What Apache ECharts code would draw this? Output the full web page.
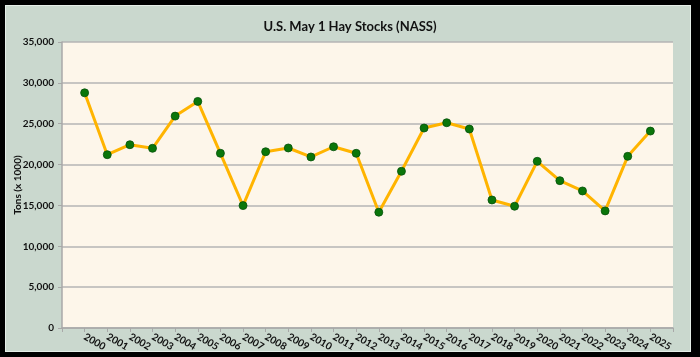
<!DOCTYPE html>
<html>
<head>
<meta charset="utf-8">
<script src="https://cdn.jsdelivr.net/npm/echarts@6/dist/echarts.min.js"></script>
<style>
html,body{margin:0;padding:0;background:#000;}
#frame{position:absolute;left:0;top:0;width:700px;height:357px;background:#000;}
#panel{position:absolute;left:5px;top:5px;width:684px;height:345px;background:#cad8ce;border:1px solid #e6eee8;}
#chart{position:absolute;left:0;top:0;width:700px;height:357px;}
</style>
</head>
<body>
<div id="frame"></div>
<div id="panel"></div>
<div id="chart"></div>
<script>
const years = [2000,2001,2002,2003,2004,2005,2006,2007,2008,2009,2010,2011,2012,2013,2014,2015,2016,2017,2018,2019,2020,2021,2022,2023,2024,2025];
const stocks = [28780,21210,22430,21990,25930,27730,21380,14980,21570,22030,20930,22180,21380,14170,19180,24470,25120,24350,15670,14900,20400,18030,16770,14330,21010,24100];
const yTicks = [0,5000,10000,15000,20000,25000,30000,35000];
const titleText = 'U.S. May 1 Hay Stocks (NASS)';
const yName = 'Tons (x 1000)';

const font = 'Lato, "Open Sans", sans-serif';
const chart = echarts.init(document.getElementById('chart'), null, {renderer:'canvas'});
chart.setOption({
  backgroundColor: 'transparent',
  animation: false,
  title: {
    text: titleText, left: 'center', top: 15,
    textStyle: {fontFamily: font, fontSize: 13, fontWeight: 'bold', color: '#111'}
  },
  grid: {
    left: 62, top: 42, right: 27, bottom: 29, containLabel: false,
    show: true, backgroundColor: '#fdf6ea', borderWidth: 0
  },
  xAxis: {
    type: 'value', min: years[0] - 1, max: years[years.length-1] + 1, interval: 1,
    axisLine: {show: true, onZero: false, lineStyle: {color: '#a8a8a8', width: 1.5}},
    axisTick: {show: true, length: 4, lineStyle: {color: '#a8a8a8'}},
    splitLine: {show: false},
    axisLabel: {
      rotate: -30, margin: 8, color: '#111', fontFamily: font, fontSize: 10, fontWeight: 'bold',
      formatter: v => (years.indexOf(v) >= 0 ? String(v) : '')
    }
  },
  yAxis: {
    type: 'value', min: yTicks[0], max: yTicks[yTicks.length-1], interval: 5000,
    name: yName, nameLocation: 'middle', nameGap: 39, nameRotate: 90, nameMoveOverlap: false,
    nameTextStyle: {fontFamily: font, fontSize: 10, fontWeight: 'bold', color: '#111'},
    axisLine: {show: true, lineStyle: {color: '#a8a8a8', width: 1.5}},
    axisTick: {show: true, length: 4, lineStyle: {color: '#a8a8a8'}},
    splitLine: {show: true, lineStyle: {color: '#b4b4b4', width: 1.5}},
    axisLabel: {
      margin: 8, color: '#111', fontFamily: font, fontSize: 10, fontWeight: 'bold',
      formatter: v => v.toLocaleString('en-US')
    }
  },
  series: [{
    type: 'line',
    data: years.map((y, i) => [y, stocks[i]]),
    symbol: 'circle', symbolSize: 8,
    lineStyle: {color: '#ffb400', width: 3},
    itemStyle: {color: '#0a760a', borderColor: '#05500a', borderWidth: 0.8},
    z: 3
  }]
});
</script>
</body>
</html>
